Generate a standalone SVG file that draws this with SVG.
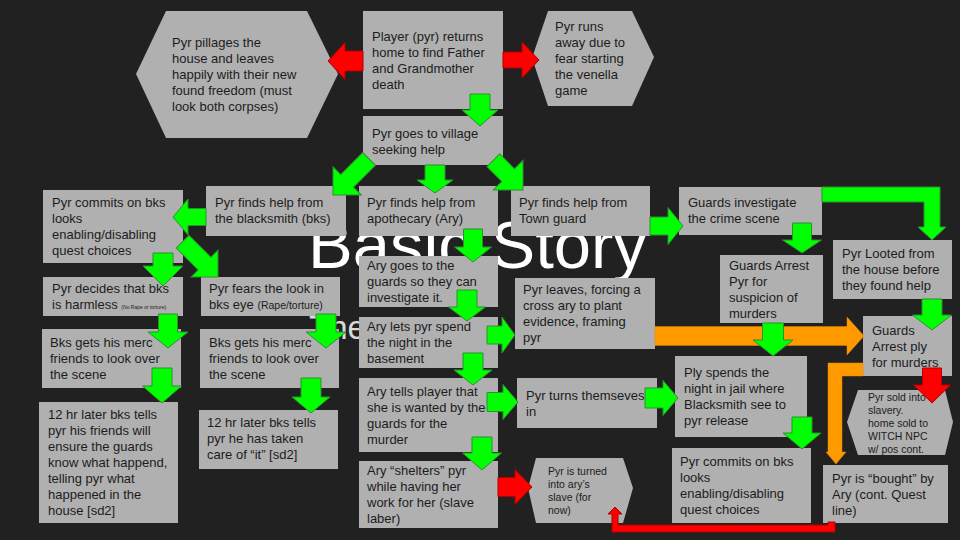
<svg xmlns="http://www.w3.org/2000/svg" width="960" height="540" viewBox="0 0 960 540">
<style>
.bg{fill:#212121}
.box{fill:#b0b0b0}
.t{font-family:"Liberation Sans",Arial,sans-serif;font-size:13px;fill:#1c1c1c}
.s{font-family:"Liberation Sans",Arial,sans-serif;font-size:10.5px;fill:#1c1c1c}
.g{fill:#00ff00;stroke:#2f8f2f;stroke-width:1}
.r{fill:#ff0000;stroke:#b00000;stroke-width:1}
.o{fill:#ff9900;stroke:#e08a00;stroke-width:0.5}
.title{font-family:"Liberation Sans",Arial,sans-serif;fill:#ffffff}
</style>
<rect class="bg" x="0" y="0" width="960" height="540"/>
<g id="title">
<text class="title" x="308" y="268" font-size="67">Basic Story</text>
<text class="title" x="309" y="339" font-size="33" fill="#d9d9d9" style="fill:#d9d9d9">The</text>
</g>

<g id="n-start">
<rect class="box" x="363" y="11" width="140" height="98"/>
<text class="t" x="372" y="41">Player (pyr) returns</text>
<text class="t" x="372" y="57">home to find Father</text>
<text class="t" x="372" y="73">and Grandmother</text>
<text class="t" x="372" y="89">death</text>
</g>
<g id="n-pillage">
<polygon class="box" points="136,74 166,11 307,11 338,74 307,138 166,138"/>
<text class="t" x="172" y="47">Pyr pillages the</text>
<text class="t" x="172" y="63">house and leaves</text>
<text class="t" x="172" y="79">happily with their new</text>
<text class="t" x="172" y="95">found freedom (must</text>
<text class="t" x="172" y="111">look both corpses)</text>
</g>
<g id="n-runs">
<polygon class="box" points="532,58 548,11 632,11 654,57 632,106 548,106"/>
<text class="t" x="555" y="31">Pyr runs</text>
<text class="t" x="555" y="47">away due to</text>
<text class="t" x="555" y="63">fear starting</text>
<text class="t" x="555" y="79">the venella</text>
<text class="t" x="555" y="95">game</text>
</g>
<g id="n-village">
<rect class="box" x="363" y="116" width="140" height="49"/>
<text class="t" x="372" y="138">Pyr goes to village</text>
<text class="t" x="372" y="154">seeking help</text>
</g>
<g id="n-commits1">
<rect class="box" x="43" y="190" width="140" height="73"/>
<text class="t" x="52" y="207">Pyr commits on bks</text>
<text class="t" x="52" y="223">looks</text>
<text class="t" x="52" y="239">enabling/disabling</text>
<text class="t" x="52" y="255">quest choices</text>
</g>
<g id="n-blacksmith">
<rect class="box" x="206" y="186" width="140" height="50"/>
<text class="t" x="215" y="207">Pyr finds help from</text>
<text class="t" x="215" y="223">the blacksmith (bks)</text>
</g>
<g id="n-apothecary">
<rect class="box" x="359" y="186" width="139" height="50"/>
<text class="t" x="367" y="207">Pyr finds help from</text>
<text class="t" x="367" y="223">apothecary (Ary)</text>
</g>
<g id="n-townguard">
<rect class="box" x="511" y="186" width="139" height="50"/>
<text class="t" x="519" y="207">Pyr finds help from</text>
<text class="t" x="519" y="223">Town guard</text>
</g>
<g id="n-investigate">
<rect class="box" x="679" y="187" width="143" height="48"/>
<text class="t" x="688" y="207">Guards investigate</text>
<text class="t" x="688" y="223">the crime scene</text>
</g>
<g id="n-arrest">
<rect class="box" x="720" y="255" width="103" height="68"/>
<text class="t" x="729" y="270">Guards Arrest</text>
<text class="t" x="729" y="286">Pyr for</text>
<text class="t" x="729" y="302">suspicion of</text>
<text class="t" x="729" y="318">murders</text>
</g>
<g id="n-looted">
<rect class="box" x="833" y="240" width="119" height="59"/>
<text class="t" x="842" y="258">Pyr Looted from</text>
<text class="t" x="842" y="274">the house before</text>
<text class="t" x="842" y="290">they found help</text>
</g>
<g id="n-arrestply">
<rect class="box" x="863" y="316" width="89" height="60"/>
<text class="t" x="872" y="335">Guards</text>
<text class="t" x="872" y="351">Arrest ply</text>
<text class="t" x="872" y="367">for murders</text>
</g>
<g id="n-decides">
<rect class="box" x="43" y="277" width="140" height="39"/>
<text class="t" x="52" y="293">Pyr decides that bks</text>
<text class="t" x="52" y="309">is harmless <tspan font-size="5">(No Rape or torture)</tspan></text>
</g>
<g id="n-fears">
<rect class="box" x="201" y="277" width="139" height="39"/>
<text class="t" x="209" y="293">Pyr fears the look in</text>
<text class="t" x="209" y="309">bks eye <tspan font-size="10.5">(Rape/torture)</tspan></text>
</g>
<g id="n-bks1">
<rect class="box" x="42" y="329" width="139" height="59"/>
<text class="t" x="50" y="347">Bks gets his merc</text>
<text class="t" x="50" y="363">friends to look over</text>
<text class="t" x="50" y="379">the scene</text>
</g>
<g id="n-bks2">
<rect class="box" x="200" y="329" width="139" height="59"/>
<text class="t" x="209" y="347">Bks gets his merc</text>
<text class="t" x="209" y="363">friends to look over</text>
<text class="t" x="209" y="379">the scene</text>
</g>
<g id="n-later1">
<rect class="box" x="39" y="402" width="139" height="121"/>
<text class="t" x="48" y="419">12 hr later bks tells</text>
<text class="t" x="48" y="435">pyr his friends will</text>
<text class="t" x="48" y="451">ensure the guards</text>
<text class="t" x="48" y="467">know what happend,</text>
<text class="t" x="48" y="483">telling pyr what</text>
<text class="t" x="48" y="499">happened in the</text>
<text class="t" x="48" y="515">house [sd2]</text>
</g>
<g id="n-later2">
<rect class="box" x="199" y="410" width="139" height="59"/>
<text class="t" x="207" y="427">12 hr later bks tells</text>
<text class="t" x="207" y="443">pyr he has taken</text>
<text class="t" x="207" y="459">care of “it” [sd2]</text>
</g>
<g id="n-arygoes">
<rect class="box" x="359" y="256" width="139" height="51"/>
<text class="t" x="367" y="270">Ary goes to the</text>
<text class="t" x="367" y="286">guards so they can</text>
<text class="t" x="367" y="302">investigate it.</text>
</g>
<g id="n-arylets">
<rect class="box" x="359" y="317" width="139" height="51"/>
<text class="t" x="367" y="331">Ary lets pyr spend</text>
<text class="t" x="367" y="347">the night in the</text>
<text class="t" x="367" y="363">basement</text>
</g>
<g id="n-arytells">
<rect class="box" x="359" y="378" width="139" height="74"/>
<text class="t" x="367" y="396">Ary tells player that</text>
<text class="t" x="367" y="412">she is wanted by the</text>
<text class="t" x="367" y="428">guards for the</text>
<text class="t" x="367" y="444">murder</text>
</g>
<g id="n-shelters">
<rect class="box" x="359" y="461" width="139" height="67"/>
<text class="t" x="367" y="475">Ary “shelters” pyr</text>
<text class="t" x="367" y="491">while having her</text>
<text class="t" x="367" y="507">work for her (slave</text>
<text class="t" x="367" y="523">laber)</text>
</g>
<g id="n-leaves">
<rect class="box" x="515" y="278" width="140" height="71"/>
<text class="t" x="523" y="294">Pyr leaves, forcing a</text>
<text class="t" x="523" y="310">cross ary to plant</text>
<text class="t" x="523" y="326">evidence, framing</text>
<text class="t" x="523" y="342">pyr</text>
</g>
<g id="n-turns">
<rect class="box" x="517" y="378" width="140" height="50"/>
<text class="t" x="526" y="400">Pyr turns themseves</text>
<text class="t" x="526" y="416">in</text>
</g>
<g id="n-jail">
<rect class="box" x="675" y="356" width="132" height="81"/>
<text class="t" x="684" y="377">Ply spends the</text>
<text class="t" x="684" y="393">night in jail where</text>
<text class="t" x="684" y="409">Blacksmith see to</text>
<text class="t" x="684" y="425">pyr release</text>
</g>
<g id="n-commits2">
<rect class="box" x="672" y="448" width="139" height="75"/>
<text class="t" x="680" y="466">Pyr commits on bks</text>
<text class="t" x="680" y="482">looks</text>
<text class="t" x="680" y="498">enabling/disabling</text>
<text class="t" x="680" y="514">quest choices</text>
</g>
<g id="n-bought">
<rect class="box" x="823" y="465" width="125" height="58"/>
<text class="t" x="832" y="483">Pyr is “bought” by</text>
<text class="t" x="832" y="499">Ary (cont. Quest</text>
<text class="t" x="832" y="515">line)</text>
</g>
<g id="n-slave">
<polygon class="box" points="528,488 536,458 623,458 633,488 623,523 536,523"/>
<text class="s" x="548" y="475">Pyr is turned</text>
<text class="s" x="548" y="488">into ary’s</text>
<text class="s" x="548" y="501">slave (for</text>
<text class="s" x="548" y="514">now)</text>
</g>
<g id="n-sold">
<polygon class="box" points="847,422 858,390 945,390 953,422 945,455 858,455"/>
<text class="s" x="868" y="401">Pyr sold into</text>
<text class="s" x="868" y="414">slavery.</text>
<text class="s" x="868" y="427">home sold to</text>
<text class="s" x="868" y="440">WITCH NPC</text>
<text class="s" x="868" y="453">w/ pos cont.</text>
</g>

<g id="connectors">
<path class="o" d="M-209,-9.5H-17V-19L0,0L-17,19V9.5H-209Z" transform="translate(864,336)"/>
<polygon class="o" points="863,363 828,363 828,452 826,452 836,464 846,452 842,452 842,376 863,376"/>
<polygon class="r" points="835,522 835,532 612,532 612,514 608,514 615,507 622,514 618,514 618,525 828,525 828,522"/>
<path class="r" d="M-35,-10H-17V-18.5L0,0L-17,18.5V10H-35Z" transform="translate(328,61) rotate(180)"/>
<path class="r" d="M-36,-8H-17V-18L0,0L-17,18V8H-36Z" transform="translate(539,60)"/>
<path class="r" d="M-35,-9.5H-18V-18.5L0,0L-18,18.5V9.5H-35Z" transform="translate(932,403) rotate(90)"/>
<path class="r" d="M-34,-9.5H-17V-17.5L0,0L-17,17.5V9.5H-34Z" transform="translate(532,487)"/>

<path class="g" d="M-32,-10H-16V-18L0,0L-16,18V10H-32Z" transform="translate(480,126) rotate(90)"/>
<path class="g" d="M-28,-10H-13V-18L0,0L-13,18V10H-28Z" transform="translate(435,193) rotate(90)"/>
<path class="g" d="M-51,-9H-20V-20L0,0L-20,20V9H-51Z" transform="translate(333,195) rotate(135)"/>
<path class="g" d="M-42,-9H-21V-21L0,0L-21,21V9H-42Z" transform="translate(523,190) rotate(45)"/>
<path class="g" d="M-33,-8.5H-15V-18L0,0L-15,18V8.5H-33Z" transform="translate(173,217) rotate(180)"/>
<path class="g" d="M-33,-10H-20V-20L0,0L-20,20V10H-33Z" transform="translate(163,286) rotate(90)"/>
<path class="g" d="M-50,-9H-19V-19L0,0L-19,19V9H-50Z" transform="translate(218,277) rotate(45)"/>
<path class="g" d="M-34,-9.5H-16V-20L0,0L-16,20V9.5H-34Z" transform="translate(168,348) rotate(90)"/>
<path class="g" d="M-34,-10H-16V-20L0,0L-16,20V10H-34Z" transform="translate(326,348) rotate(90)"/>
<path class="g" d="M-35,-10H-17V-19.5L0,0L-17,19.5V10H-35Z" transform="translate(162,403) rotate(90)"/>
<path class="g" d="M-35,-10H-16V-19L0,0L-16,19V10H-35Z" transform="translate(311,413) rotate(90)"/>
<path class="g" d="M-33,-9.5H-15V-18.5L0,0L-15,18.5V9.5H-33Z" transform="translate(473,262) rotate(90)"/>
<path class="g" d="M-31,-10H-14V-18.5L0,0L-14,18.5V10H-31Z" transform="translate(467,321) rotate(90)"/>
<path class="g" d="M-32,-10H-15V-19L0,0L-15,19V10H-32Z" transform="translate(473,385) rotate(90)"/>
<path class="g" d="M-33,-10H-17V-19.5L0,0L-17,19.5V10H-33Z" transform="translate(482,470) rotate(90)"/>
<path class="g" d="M-28,-9H-13V-18L0,0L-13,18V9H-28Z" transform="translate(515,335)"/>
<path class="g" d="M-31,-9.5H-15V-17.5L0,0L-15,17.5V9.5H-31Z" transform="translate(518,402)"/>
<path class="g" d="M-33,-10H-15V-17.5L0,0L-15,17.5V10H-33Z" transform="translate(678,398)"/>
<path class="g" d="M-33,-9H-15V-18.5L0,0L-15,18.5V9H-33Z" transform="translate(683,226)"/>
<path class="g" d="M-30,-9.5H-13V-19.5L0,0L-13,19.5V9.5H-30Z" transform="translate(802,253) rotate(90)"/>
<polygon class="g" points="822,187 940,187 940,227 946,227 932,240 918,227 924,227 924,202 822,202"/>
<path class="g" d="M-31,-10H-15V-19.5L0,0L-15,19.5V10H-31Z" transform="translate(932,330) rotate(90)"/>
<path class="g" d="M-33,-10.5H-16V-20L0,0L-16,20V10.5H-33Z" transform="translate(773,356) rotate(90)"/>
<path class="g" d="M-32,-10H-16V-19L0,0L-16,19V10H-32Z" transform="translate(802,449) rotate(90)"/>
</g>
</svg>
